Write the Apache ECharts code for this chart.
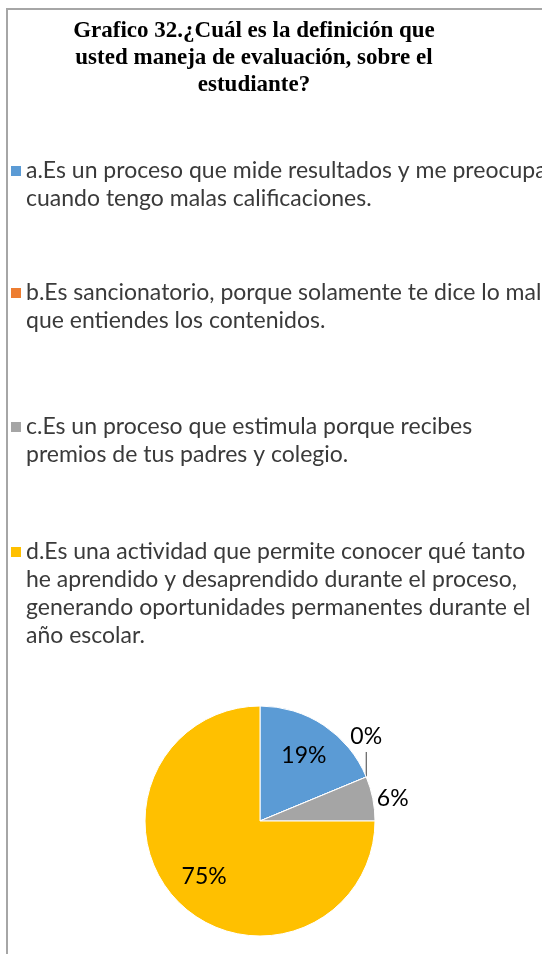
<!DOCTYPE html>
<html><head><meta charset="utf-8">
<script src="https://cdn.jsdelivr.net/npm/echarts/dist/echarts.min.js"></script>
<style>
html,body{margin:0;padding:0;background:#fff}
#c{position:absolute;left:0;top:0;width:542px;height:954px}
#frame{position:absolute;left:6px;top:8px;width:700px;height:1100px;border-left:2px solid #a6a6a6;border-top:2px solid #a6a6a6;pointer-events:none}
</style>
</head><body><div id="c"></div><div id="frame"></div>
<script>
const titleText = 'Grafico 32.¿Cuál es la definición que\nusted maneja de evaluación, sobre el\nestudiante?';
const categories = [
  'a.Es un proceso que mide resultados y me preocupa\ncuando tengo malas calificaciones.',
  'b.Es sancionatorio, porque solamente te dice lo mal\nque entiendes los contenidos.',
  'c.Es un proceso que estimula porque recibes\npremios de tus padres y colegio.',
  'd.Es una actividad que permite conocer qué tanto\nhe aprendido y desaprendido durante el proceso,\ngenerando oportunidades permanentes durante el\naño escolar.'
];
const counts = [3, 0, 1, 12];
const colors = ['#5B9BD5', '#ED7D31', '#A5A5A5', '#FFC000'];

const LH = 28;
const SQ = 10;
const firstLineCenters = [171, 293, 427, 552];
const legends = categories.map((name, i) => {
  const n = name.split('\n').length;
  const H = SQ + (n - 1) * LH;
  return {
    data: [name],
    orient: 'vertical',
    left: 11,
    top: firstLineCenters[i] - LH / 2,
    padding: 0,
    icon: 'path://M0,0h' + SQ + 'v' + SQ + 'h-' + SQ + 'z M0,' + H + 'h' + SQ,
    itemWidth: SQ,
    itemHeight: H,
    itemStyle: { borderWidth: 0 },
    selectedMode: false,
    textStyle: { fontFamily: 'Lato', fontSize: 23, lineHeight: LH, color: '#3a3a3a' }
  };
});

const pctFmt = p => Math.round(p.percent) + '%';
const labelFont = { fontFamily: 'Lato', fontSize: 23, color: '#000' };
const center = [260, 821];

const chart = echarts.init(document.getElementById('c'), null, { renderer: 'canvas' });
chart.setOption({
  animation: false,
  color: colors,
  title: {
    text: titleText, left: 249, top: 13, textAlign: 'center',
    textStyle: { fontFamily: 'Liberation Serif', fontWeight: 'bold', fontSize: 23, lineHeight: 27, color: '#000' }
  },
  legend: legends,
  series: [
    {
      type: 'pie', center: center, radius: [0, 115], startAngle: 90, clockwise: true,
      avoidLabelOverlap: false,
      itemStyle: { borderColor: '#fff', borderWidth: 1 },
      label: Object.assign({ position: 'outside', formatter: pctFmt }, labelFont),
      labelLine: { show: true, length: 10, length2: 10, lineStyle: { color: '#404040', width: 1 } },
      emphasis: { disabled: true },
      labelLayout: function (p) {
        const pts = p.labelLinePoints;
        if (!pts) return {};
        const x0 = pts[0][0], y0 = pts[0][1];
        if (p.dataIndex === 1) {
          return { x: x0, y: y0 - 40, align: 'center', verticalAlign: 'middle', labelLinePoints: [[x0, y0], [x0, y0 - 25]] };
        }
        if (p.dataIndex === 2) {
          return { x: x0 + 4, y: y0, align: 'left', verticalAlign: 'middle' };
        }
        return {};
      },
      data: categories.map((name, i) => ({
        name: name, value: counts[i],
        label: { show: i === 1 || i === 2 },
        labelLine: { show: i === 1 }
      }))
    },
    {
      type: 'pie', center: center, radius: [0, 152], startAngle: 90, clockwise: true,
      silent: true, avoidLabelOverlap: false,
      itemStyle: { color: 'rgba(0,0,0,0)', borderWidth: 0 },
      label: Object.assign({ position: 'inside', formatter: pctFmt }, labelFont),
      labelLine: { show: false },
      emphasis: { disabled: true },
      data: categories.map((name, i) => ({
        name: name, value: counts[i],
        label: { show: i === 0 || i === 3 }
      }))
    }
  ]
});
</script>
</body></html>
